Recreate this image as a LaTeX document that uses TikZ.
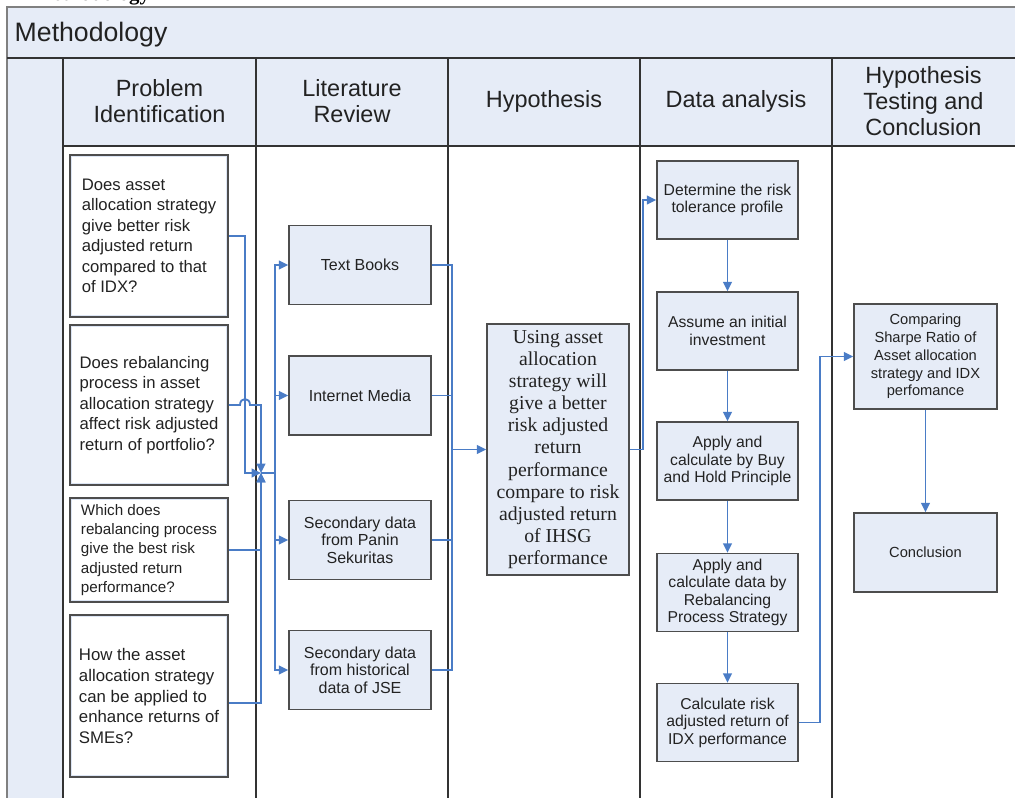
\documentclass[tikz,border=0pt]{standalone}
\usepackage{fontspec}
\setmainfont{Liberation Sans}
\newfontfamily\serifx{Liberation Serif}
\usetikzlibrary{arrows.meta}
\definecolor{lb}{HTML}{E6ECF7}
\definecolor{ib}{HTML}{DCE5F4}
\definecolor{bd}{HTML}{4D4D4D}
\definecolor{ln}{HTML}{333333}
\definecolor{ab}{HTML}{4A7CC6}
\definecolor{tx}{HTML}{222222}
\begin{document}
\begin{tikzpicture}[x=0.75pt,y=-0.75pt,
  frame/.style={draw=ln, line width=1.5pt},
  qbox/.style={draw=bd, line width=1.2pt, fill=white, align=left, inner sep=0pt, text=tx,
    minimum width=118.5pt,
    path picture={\draw[ib, line width=3pt] (path picture bounding box.south west) rectangle (path picture bounding box.north east);}},
  bbox/.style={draw=bd, line width=1.2pt, fill=lb, align=center, inner sep=0pt, text=tx},
  lbox/.style={bbox, minimum width=106.5pt, minimum height=59.25pt, font=\fontsize{12}{13.2}\selectfont},
  dbox/.style={bbox, minimum width=105.75pt, minimum height=58.5pt, font=\fontsize{11.8}{13.1}\selectfont},
  cbox/.style={bbox, minimum width=107.25pt, font=\fontsize{11}{13.3}\selectfont},
  head/.style={align=center, text=tx, font=\fontsize{17.6}{19.5}\selectfont},
  conn/.style={draw=ab, line width=1.4pt},
  arr/.style={conn, -{Triangle[length=7pt,width=6.5pt]}}
]
\useasboundingbox (0,0) rectangle (1015,797);
\clip (0,0) rectangle (1015,797);
% clipped caption at the top
\node[anchor=base west, inner sep=0pt, font=\serifx\bfseries\fontsize{15.6}{18}\selectfont] (cap) at (33,0) {Methodology};
% frame fills
\fill[lb] (7,7) rectangle (1025,57);
\fill[lb] (7,57) rectangle (63,805);
\fill[lb] (63,57) rectangle (1025,146);
% frame lines
\draw[draw=gray, line width=1.2pt] (1025,7) -- (7,7) -- (7,805);
\draw[draw=ln, line width=2.2pt] (7,58) -- (1025,58);
\draw[frame] (63,146) -- (1025,146);
\foreach \cx in {63,256,448,640,832} \draw[frame] (\cx,58) -- (\cx,805);
% titles
\node[anchor=west, text=tx, font=\fontsize{20}{24}\selectfont] (title) at (10,35) {Methodology};
\node[head] (h1) at (159.5,101) {Problem\\Identification};
\node[head] (h2) at (352,101) {Literature\\Review};
\node[head] (h3) at (544,101) {Hypothesis};
\node[head] (h4) at (736,101) {Data analysis};
\node[head] (h5) at (923.5,101) {Hypothesis\\Testing and\\Conclusion};
% problem boxes
\node[qbox, minimum height=121.5pt, font=\fontsize{12.5}{15.4}\selectfont] (p1) at (149,236) {Does asset\\allocation strategy\\give better risk\\adjusted return\\compared to that\\of IDX?};
\node[qbox, minimum height=120pt, font=\fontsize{12.5}{15.4}\selectfont] (p2) at (149,405) {Does rebalancing\\process in asset\\allocation strategy\\affect risk adjusted\\return of portfolio?};
\node[qbox, minimum height=78pt, font=\fontsize{11.4}{14.4}\selectfont] (p3) at (149,550) {Which does\\rebalancing process\\give the best risk\\adjusted return\\performance?};
\node[qbox, minimum height=121.5pt, font=\fontsize{12.6}{15.4}\selectfont] (p4) at (149,696) {How the asset\\allocation strategy\\can be applied to\\enhance returns of\\SMEs?};
% literature boxes
\node[lbox] (l1) at (360,265) {Text Books};
\node[lbox] (l2) at (360,395.5) {Internet Media};
\node[lbox] (l3) at (360,540) {Secondary data\\from Panin\\Sekuritas};
\node[lbox] (l4) at (360,670) {Secondary data\\from historical\\data of JSE};
% hypothesis
\node[bbox, minimum width=106.5pt, minimum height=188.25pt, font=\serifx\fontsize{14.8}{16.6}\selectfont] (h) at (558,449.5) {Using asset\\allocation\\strategy will\\give a better\\risk adjusted\\return\\performance\\compare to risk\\adjusted return\\of IHSG\\performance};
% data analysis
\node[dbox] (d1) at (727.5,200) {Determine the risk\\tolerance profile};
\node[dbox] (d2) at (727.5,331) {Assume an initial\\investment};
\node[dbox] (d3) at (727.5,461) {Apply and\\calculate by Buy\\and Hold Principle};
\node[dbox] (d4) at (727.5,592.5) {Apply and\\calculate data by\\Rebalancing\\Process Strategy};
\node[dbox] (d5) at (727.5,722.5) {Calculate risk\\adjusted return of\\IDX performance};
% conclusion
\node[cbox, minimum height=78.75pt] (c1) at (925.5,356.5) {Comparing\\Sharpe Ratio of\\Asset allocation\\strategy and IDX\\perfomance};
\node[cbox, minimum height=59.25pt] (c2) at (925.5,552.5) {Conclusion};
% connectors: problems -> junction
\coordinate (j) at (261,473);
\coordinate (t) at (275,473);
\draw[arr] (p1.east) -| (245,473) -- (j);
\draw[arr] (p2.east) -- (240,405) .. controls (240,397) and (250,397) .. (250,405) -| (j);
\draw[arr] (p3.east) -| (j);
\draw[arr] ([yshift=-5.25pt]p4.east) -| (j);
\draw[conn] (j) -- (t);
\draw[arr] (t) |- (l1.west);
\draw[arr] (t) |- (l2.west);
\draw[arr] (t) |- (l3.west);
\draw[arr] (t) |- (l4.west);
% literature -> hypothesis
\coordinate (m) at (452,449.5);
\draw[conn] (l1.east) -| (m);
\draw[conn] (l2.east) -| (m);
\draw[conn] (l3.east) -| (m);
\draw[conn] (l4.east) -| (m);
\draw[arr] (m) -- (h.west);
% hypothesis -> data analysis
\draw[arr] (h.east) -- ++(13,0) |- (d1.west);
\draw[arr] (d1.south) -- (d2.north);
\draw[arr] (d2.south) -- (d3.north);
\draw[arr] (d3.south) -- (d4.north);
\draw[arr] (d4.south) -- (d5.north);
% data analysis -> conclusion
\draw[arr] (d5.east) -- ++(21,0) |- (c1.west);
\draw[arr] (c1.south) -- (c2.north);
\end{tikzpicture}
\end{document}
